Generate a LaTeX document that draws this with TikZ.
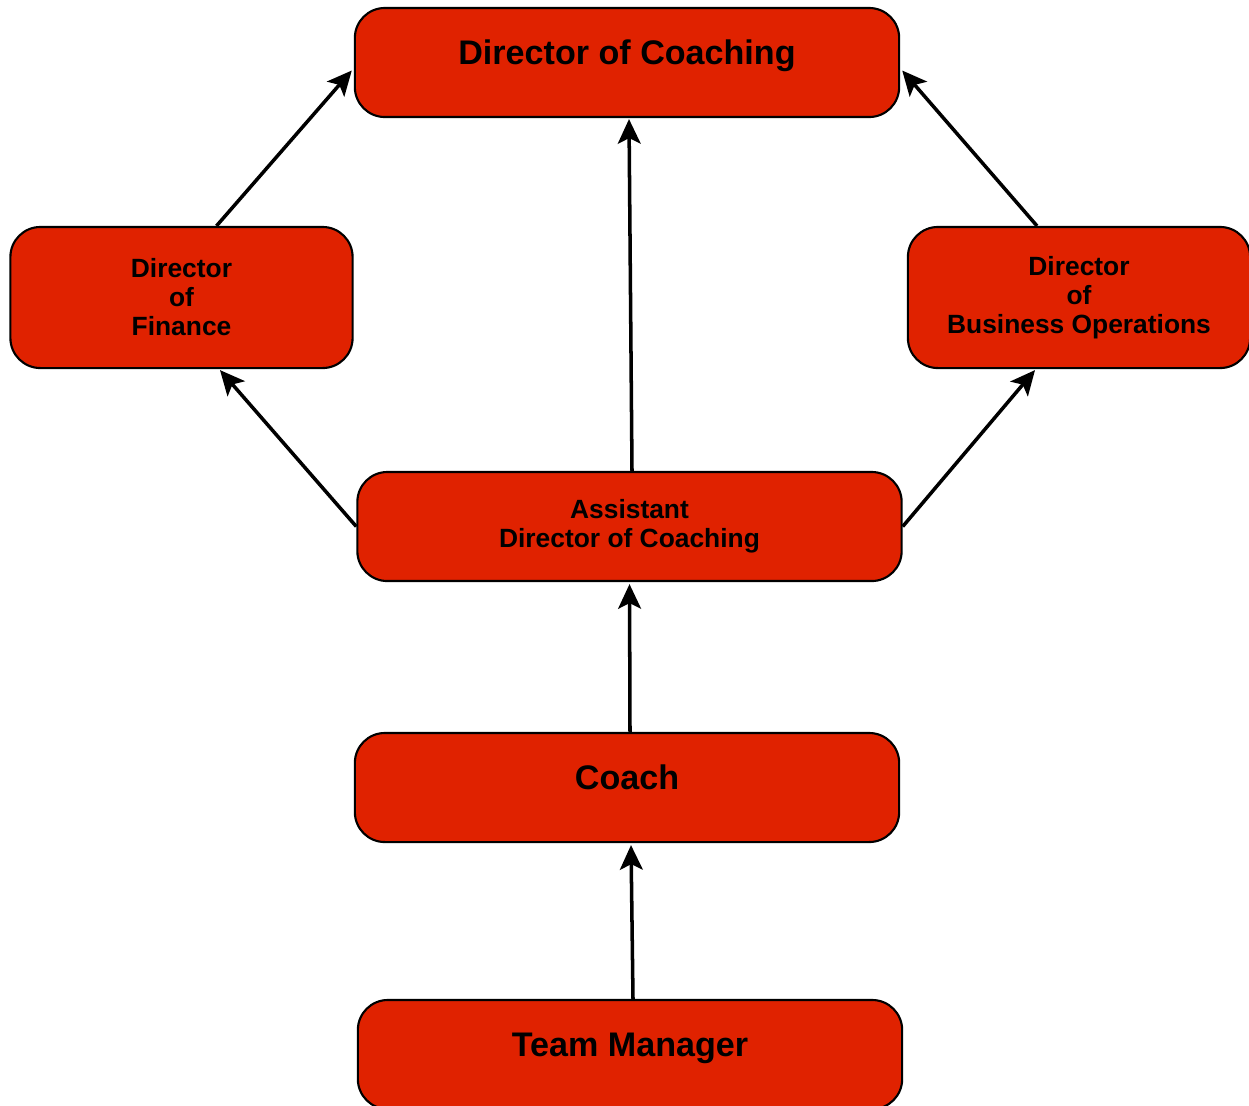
\documentclass[tikz,border=0pt]{standalone}
\usepackage{fontspec}
\setmainfont{Liberation Sans}
\usepackage{tikz}
\usetikzlibrary{arrows.meta,calc}
\definecolor{boxred}{RGB}{224,34,0}

\begin{document}
\begin{tikzpicture}[x=0.01cm,y=-0.01cm,->,>={Stealth[length=7pt,width=6.5pt,inset=1.6pt]},
      line width=1pt,
      role/.style={draw=black,line width=0.6pt,fill=boxred,rounded corners=0.3cm,
        minimum width=5.44cm,minimum height=1.09cm,inner sep=0pt},
      head/.style={role,font=\fontsize{9.7}{11}\selectfont\bfseries,
        text height=0.14cm,text depth=0.1cm},
      mid/.style={role,align=center,font=\fontsize{7.5}{8.25}\selectfont\bfseries},
      side/.style={mid,minimum width=3.42cm,minimum height=1.41cm}]
      \useasboundingbox (0,0) rectangle (1249,1105);

      \node[head] (doc)   at ( 627,  62.5) {Director of Coaching};
      \node[side] (fin)   at (181.5, 297.5) {Director\\of\\Finance};
      \node[side] (ops)   at (1079,  297.5) {Director\\of\\Business Operations};
      \node[mid]  (adc)   at (629.5, 526.5) {Assistant\\Director of Coaching};
      \node[head] (coach) at ( 627,  787.5) {Coach};
      \node[head] (tm)    at ( 630, 1054.5) {Team Manager};

      \draw ($(fin.north)+(35,0)$)   -- ($(doc.west)+(-2,8)$);   % finance
      \draw ($(ops.north)+(-42,0)$)  -- ($(doc.east)+(2,8)$);    % operations
      \draw ($(adc.north)+(2.5,0)$)  -- ($(doc.south)+(2,1)$);   % assistant

      \draw (adc.west) -- ($(fin.south)+(38.5,1)$);
      \draw (adc.east) -- ($(ops.south)+(-44,1)$);

      \draw ($(coach.north)+(3,0)$)  -- ($(adc.south)+(0,2)$);
      \draw ($(tm.north)+(3,0)$)     -- ($(coach.south)+(4,2)$);
\end{tikzpicture}
\end{document}
